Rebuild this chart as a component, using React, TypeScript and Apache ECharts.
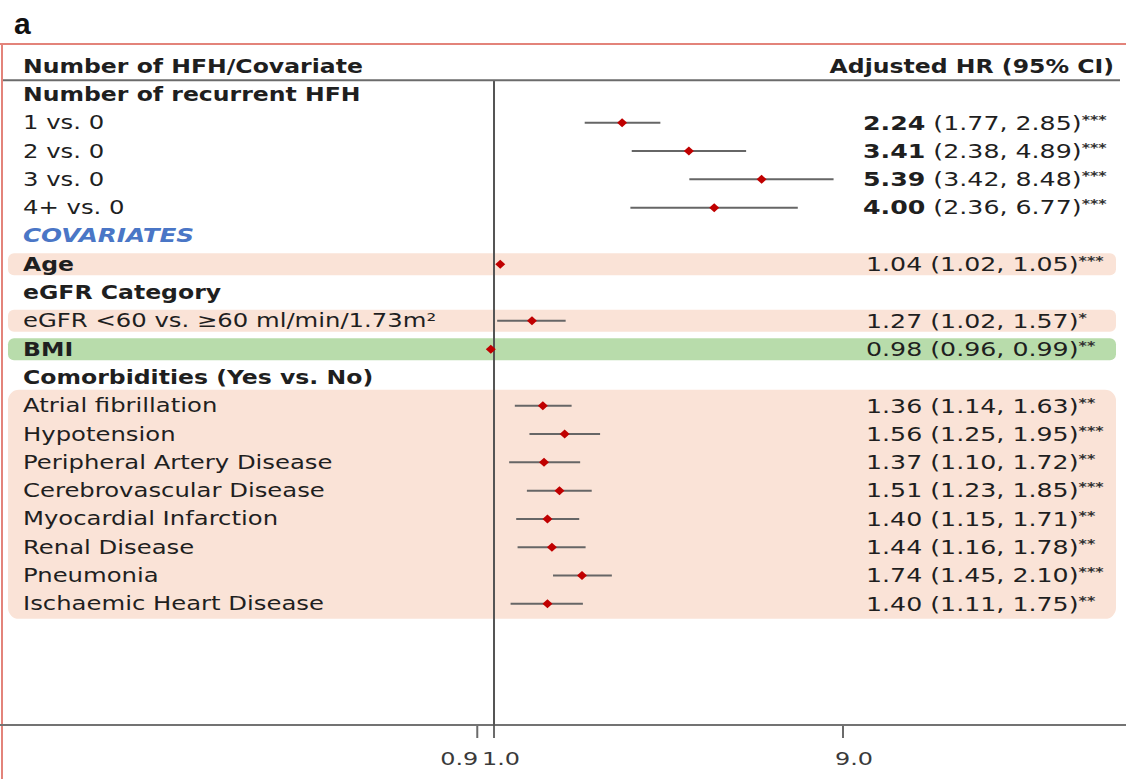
import React, { useEffect, useRef } from "react";
import * as echarts from "echarts";

// ---------- data ----------
const rowLabels = [
  "Number of HFH/Covariate",
  "Number of recurrent HFH",
  "1 vs. 0",
  "2 vs. 0",
  "3 vs. 0",
  "4+ vs. 0",
  "COVARIATES",
  "Age",
  "eGFR Category",
  "eGFR <60 vs. \u226560 ml/min/1.73m\u00B2",
  "BMI",
  "Comorbidities (Yes vs. No)",
  "Atrial fibrillation",
  "Hypotension",
  "Peripheral Artery Disease",
  "Cerebrovascular Disease",
  "Myocardial Infarction",
  "Renal Disease",
  "Pneumonia",
  "Ischaemic Heart Disease",
];
// header | bold | item | group
const rowKinds = [
  "header", "bold", "item", "item", "item", "item", "group", "bold", "bold", "item",
  "bold", "bold", "item", "item", "item", "item", "item", "item", "item", "item",
];
const hr = [null, null, 2.24, 3.41, 5.39, 4.0, null, 1.04, null, 1.27, 0.98, null, 1.36, 1.56, 1.37, 1.51, 1.4, 1.44, 1.74, 1.4];
const lo = [null, null, 1.77, 2.38, 3.42, 2.36, null, 1.02, null, 1.02, 0.96, null, 1.14, 1.25, 1.1, 1.23, 1.15, 1.16, 1.45, 1.11];
const hi = [null, null, 2.85, 4.89, 8.48, 6.77, null, 1.05, null, 1.57, 0.99, null, 1.63, 1.95, 1.72, 1.85, 1.71, 1.78, 2.1, 1.75];
const stars = ["", "", "***", "***", "***", "***", "", "***", "", "*", "**", "", "**", "***", "**", "***", "**", "**", "***", "**"];
const boldEstimate = [false, false, true, true, true, true, false, false, false, false, false, false, false, false, false, false, false, false, false, false];
const columnHeader = "Adjusted HR (95% CI)";

const bandFrom = [7, 9, 10, 12];
const bandTo = [7, 9, 10, 19];
const bandKind = ["pink", "pink", "green", "pink"];

const tickValues = [0.9, 1.0, 9.0];
const tickLabels = ["0.9", "1.0", "9.0"];

// ---------- styles ----------
const FONT = "'DejaVu Sans', 'Noto Sans', sans-serif";
const TEXT = "#1f1f1f";
const PINK = "#fae3d7";
const GREEN = "#b8dcab";
const tickAlign = ["right", "left", "center"];
const tickDx = [1, -12, 11];

function txt(x: number, y: number, text: string, o: any) {
  return {
    type: "text",
    x,
    y,
    scaleX: o.sx ?? 1,
    silent: true,
    style: {
      text,
      x: 0,
      y: 0,
      fill: o.fill ?? TEXT,
      fontSize: o.size ?? 19,
      fontFamily: FONT,
      fontWeight: o.weight ?? "normal",
      fontStyle: o.style ?? "normal",
      align: o.align ?? "left",
      verticalAlign: "middle",
      rich: o.rich,
    },
  };
}

export default function App() {
  const ref = useRef<HTMLDivElement>(null);

  useEffect(() => {
    document.body.style.margin = "0";
    const chart = echarts.init(ref.current!, null, { renderer: "svg" });

    const rowStep = (api: any, i: number) => api.coord([1, i + 1])[1] - api.coord([1, i])[1];

    const renderRow = (params: any, api: any) => {
      const i = params.dataIndex;
      const y = api.coord([1, i])[1];
      const step = rowStep(api, i);
      const kind = rowKinds[i];
      const children: any[] = [];
      if (kind === "header") {
        children.push(txt(23, y, rowLabels[i], { weight: "bold", sx: 1.24 }));
        children.push(txt(1114, y, columnHeader, { weight: "bold", sx: 1.24, align: "right" }));
        children.push({
          type: "line",
          shape: { x1: 3, y1: y + step / 2, x2: 1120, y2: y + step / 2 },
          style: { stroke: "#6b6b6b", lineWidth: 2 },
        });
      } else if (kind === "group") {
        children.push(txt(23, y, rowLabels[i], { weight: "bold", style: "italic", fill: "#4a76c6", sx: 1.3 }));
      } else if (kind === "bold") {
        children.push(txt(23, y, rowLabels[i], { weight: "bold", sx: 1.24 }));
      } else {
        children.push(txt(23, y, rowLabels[i], { sx: 1.28 }));
      }
      const v = hr[i];
      if (v != null) {
        const l = lo[i] as number;
        const h = hi[i] as number;
        const pl = api.coord([l, i]);
        const ph = api.coord([h, i]);
        const pv = api.coord([v, i]);
        children.push({
          type: "line",
          shape: { x1: pl[0], y1: y, x2: ph[0], y2: y },
          style: { stroke: "#666666", lineWidth: 2 },
        });
        children.push({
          type: "polygon",
          shape: { points: [[pv[0] - 5, y], [pv[0], y - 4.5], [pv[0] + 5, y], [pv[0], y + 4.5]] },
          style: { fill: "#c00000" },
        });
        const est = v.toFixed(2);
        const rest = " (" + l.toFixed(2) + ", " + h.toFixed(2) + ")";
        const text = (boldEstimate[i] ? "{b|" + est + "}" : est) + rest + (stars[i] ? "{s|" + stars[i] + "}" : "");
        children.push(
          txt(boldEstimate[i] ? 863 : 866, y, text, {
            sx: 1.33,
            rich: {
              b: { fontWeight: "bold", fontSize: 19, fontFamily: FONT, fill: TEXT },
              s: { fontSize: 12, fontWeight: "bold", fontFamily: FONT, fill: "#333", verticalAlign: "top" },
            },
          })
        );
      }
      return { type: "group", children };
    };

    const renderBand = (params: any, api: any) => {
      const k = params.dataIndex;
      const a = bandFrom[k];
      const b = bandTo[k];
      const ya = api.coord([1, a])[1];
      const yb = api.coord([1, b])[1];
      const single = a === b;
      const top = single ? ya - 11 : ya - 16;
      const bottom = single ? yb + 11 : yb + 15;
      return {
        type: "rect",
        shape: { x: 8, y: top, width: 1108, height: bottom - top, r: single ? 6 : 11 },
        style: { fill: bandKind[k] === "green" ? GREEN : PINK },
        silent: true,
      };
    };

    const renderRef = (params: any, api: any) => {
      const cs = params.coordSys;
      const bottom = cs.y + cs.height;
      const p = api.coord([1, 0]);
      const top = p[1] + rowStep(api, 0) / 2;
      return {
        type: "line",
        shape: { x1: p[0], y1: top, x2: p[0], y2: bottom + 13 },
        style: { stroke: "#555555", lineWidth: 2 },
      };
    };

    const renderTick = (params: any, api: any) => {
      const k = params.dataIndex;
      const cs = params.coordSys;
      const bottom = cs.y + cs.height;
      const x = api.coord([tickValues[k], 0])[0];
      return {
        type: "group",
        children: [
          {
            type: "line",
            shape: { x1: x, y1: bottom + 1, x2: x, y2: bottom + 13 },
            style: { stroke: "#6b6b6b", lineWidth: 2 },
          },
          txt(x + tickDx[k], bottom + 34, tickLabels[k], { size: 18, sx: 1.33, fill: "#3a3a3a", align: tickAlign[k] }),
        ],
      };
    };

    chart.setOption({
      animation: false,
      backgroundColor: "#ffffff",
      grid: { left: 0, right: 0, top: 52, bottom: 54 },
      xAxis: {
        type: "log",
        logBase: Math.E,
        min: 0.0446,
        max: 53.45,
        axisLine: { show: true, onZero: false, lineStyle: { color: "#737373", width: 2 } },
        axisTick: { show: false },
        axisLabel: { show: false },
        splitLine: { show: false },
      },
      yAxis: {
        type: "value",
        inverse: true,
        min: -0.5,
        max: 23.28,
        show: false,
      },
      graphic: [
        {
          type: "text",
          left: 14,
          top: 8,
          style: { text: "a", fontSize: 30, fontWeight: "bold", fontFamily: "'Liberation Sans', Arial, sans-serif", fill: "#111" },
        },
        {
          type: "line",
          shape: { x1: 0, y1: 44, x2: 1126, y2: 44 },
          style: { stroke: "#e3837a", lineWidth: 2 },
        },
        {
          type: "line",
          shape: { x1: 2, y1: 44, x2: 2, y2: 779 },
          style: { stroke: "#e3837a", lineWidth: 2 },
        },
      ],
      series: [
        {
          type: "custom",
          name: "bands",
          renderItem: renderBand,
          data: bandFrom.map((f, k) => [1, f, bandTo[k]]),
          clip: false,
          silent: true,
          z: 1,
        },
        {
          type: "custom",
          name: "reference",
          renderItem: renderRef,
          data: [[1, 0]],
          clip: false,
          silent: true,
          z: 2,
        },
        {
          type: "custom",
          name: "ticks",
          renderItem: renderTick,
          data: tickValues.map((t) => [t, 0]),
          clip: false,
          silent: true,
          z: 2,
        },
        {
          type: "custom",
          name: "rows",
          renderItem: renderRow,
          data: rowLabels.map((_, i) => [1, i]),
          clip: false,
          silent: true,
          z: 3,
        },
      ],
    });

    return () => chart.dispose();
  }, []);

  return <div ref={ref} style={{ width: 1126, height: 779 }} />;
}
